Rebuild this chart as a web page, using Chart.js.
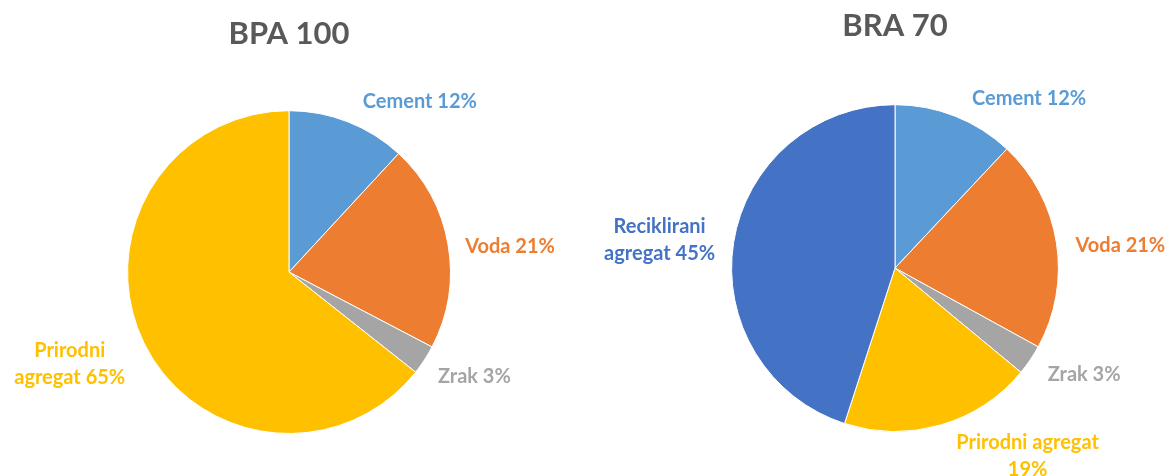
<!DOCTYPE html>
<html>
<head>
  <title>Sastav betona</title>
  <script src="https://cdn.jsdelivr.net/npm/chart.js"></script>
  <style>
    body {
      margin: 0;
      background: #ffffff;
      font-family: Lato, sans-serif;
    }
    .pie-box {
      position: absolute;
      top: 0;
      height: 476px;
    }
    #box-left { left: 0; width: 578px; }
    #box-right { left: 585px; width: 584px; }
  </style>
</head>
<body>
  <div class="pie-box" id="box-left"><canvas id="pieLeft"></canvas></div>
  <div class="pie-box" id="box-right"><canvas id="pieRight"></canvas></div>

  <script>
    // BPA 100 - beton s prirodnim agregatom
    const bpaLabels = ['Cement', 'Voda', 'Zrak', 'Prirodni agregat'];
    const bpaValues = [12, 21, 3, 65];
    const bpaColors = ['#5B9BD5', '#ED7D31', '#A5A5A5', '#FFC000'];

    // BRA 70 - beton s recikliranim agregatom
    const braLabels = ['Cement', 'Voda', 'Zrak', 'Prirodni agregat', 'Reciklirani agregat'];
    const braValues = [12, 21, 3, 19, 45];
    const braColors = ['#5B9BD5', '#ED7D31', '#A5A5A5', '#FFC000', '#4472C4'];

    // text lines for each outside label, split the way they wrap
    const bpaLines = [['Cement 12%'], ['Voda 21%'], ['Zrak 3%'], ['Prirodni', 'agregat 65%']];
    const braLines = [['Cement 12%'], ['Voda 21%'], ['Zrak 3%'], ['Prirodni agregat', '19%'], ['Reciklirani', 'agregat 45%']];

    // draws each label next to its slice, shifted out from the rim at the slice's mid angle
    const outsideLabels = {
      id: 'outsideLabels',
      afterDatasetsDraw(chart, args, opts) {
        const ctx = chart.ctx;
        const meta = chart.getDatasetMeta(0);
        const colors = chart.data.datasets[0].backgroundColor;
        ctx.save();
        ctx.font = 'bold 20px Lato';
        ctx.textAlign = 'center';
        ctx.textBaseline = 'middle';
        meta.data.forEach((arc, i) => {
          const mid = (arc.startAngle + arc.endAngle) / 2;
          const ax = arc.x + Math.cos(mid) * arc.outerRadius;
          const ay = arc.y + Math.sin(mid) * arc.outerRadius;
          const shift = opts.shift[i];
          const lines = opts.lines[i];
          const lh = 27;
          const top = ay + shift[1] - (lines.length - 1) * lh / 2;
          ctx.fillStyle = colors[i];
          lines.forEach((t, k) => ctx.fillText(t, ax + shift[0], top + k * lh));
        });
        ctx.restore();
      }
    };

    function makePie(id, title, labels, values, colors, lines, shift, titlePad, areaPad) {
      return new Chart(document.getElementById(id), {
        type: 'pie',
        data: {
          labels: labels,
          datasets: [{
            data: values,
            backgroundColor: colors,
            borderColor: '#ffffff',
            borderWidth: 1
          }]
        },
        options: {
          responsive: true,
          maintainAspectRatio: false,
          animation: false,
          layout: { padding: areaPad },
          plugins: {
            legend: { display: false },
            tooltip: { enabled: false },
            title: {
              display: true,
              text: title,
              color: '#595959',
              font: { family: 'Lato', size: 31, weight: 'bold' },
              padding: titlePad
            },
            outsideLabels: { lines: lines, shift: shift }
          }
        },
        plugins: [outsideLabels]
      });
    }

    makePie('pieLeft', 'BPA 100', bpaLabels, bpaValues, bpaColors, bpaLines,
      [[72, -20], [62, 2], [50, 17], [-74, 22]],
      { top: 15, bottom: 58 }, { bottom: 42 });
    makePie('pieRight', 'BRA 70', braLabels, braValues, braColors, braLines,
      [[74, -18], [64, 3], [54, 15], [87, 31], [-74, -2]],
      { top: 7, bottom: 60 }, { left: 36, bottom: 44 });
  </script>
</body>
</html>
